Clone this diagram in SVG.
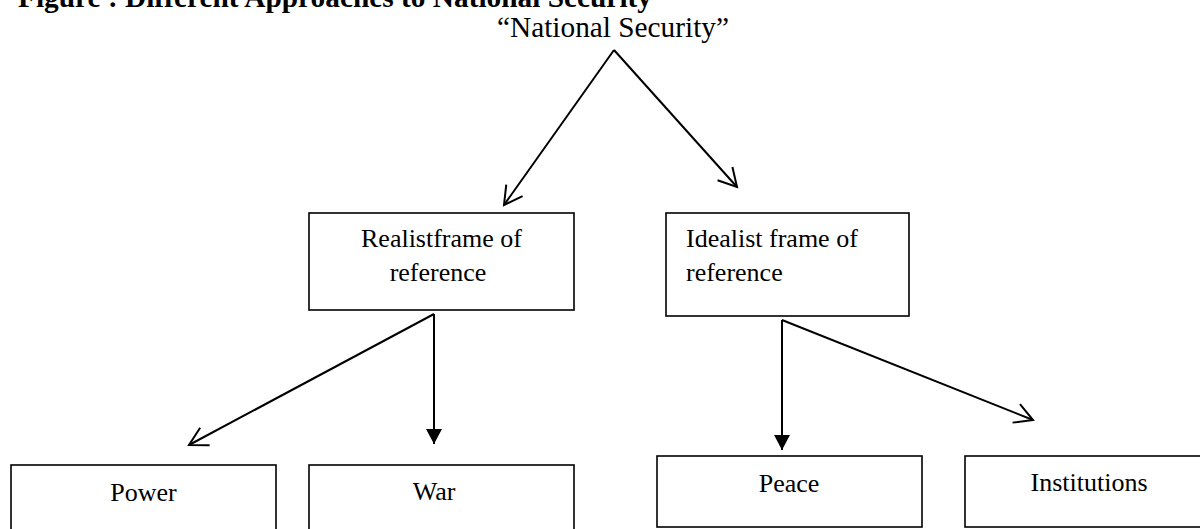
<svg xmlns="http://www.w3.org/2000/svg" width="1200" height="529" viewBox="0 0 1200 529">
  <style>
    .box { fill: #fff; stroke: #000; stroke-width: 1.6; }
    .lbl { font-family: "Liberation Serif", "Times New Roman", serif; font-size: 26px; fill: #000; }
    .c { text-anchor: middle; }
    .conn { fill: none; stroke: #000; stroke-width: 2; }
    .open { marker-end: url(#openHead); }
    .solid { marker-end: url(#solidHead); }
  </style>
  <defs>
    <marker id="openHead" viewBox="-24 -14 28 28" markerWidth="28" markerHeight="28" refX="0" refY="0" orient="auto" markerUnits="userSpaceOnUse">
      <path d="M-18,-10 L0,0 L-18,10" fill="none" stroke="#000" stroke-width="2" stroke-linejoin="miter"/>
    </marker>
    <marker id="solidHead" viewBox="-18 -10 20 20" markerWidth="20" markerHeight="20" refX="0" refY="0" orient="auto" markerUnits="userSpaceOnUse">
      <path d="M-15,-8 L0,0 L-15,8 Z" fill="#000"/>
    </marker>
  </defs>
  <rect width="1200" height="529" fill="#fff"/>

  <g id="title">
    <text x="18" y="7" font-family="Liberation Serif, Times New Roman, serif" font-size="29" font-weight="bold" textLength="634" lengthAdjust="spacingAndGlyphs">Figure : Different Approaches to National Security</text>
  </g>

  <g id="node-national-security">
    <text x="497" y="37" class="lbl" font-size="29" style="font-size:29px" textLength="232" lengthAdjust="spacingAndGlyphs">“National Security”</text>
  </g>

  <g id="connectors">
    <path class="conn open" d="M614,50 L504,205"/>
    <path class="conn open" d="M614,50 L737,187"/>
    <path class="conn open" d="M434,314 L189,445"/>
    <path class="conn solid" d="M434,314 L434,444"/>
    <path class="conn solid" d="M782,320 L782,450"/>
    <path class="conn open" d="M782,320 L1033,420"/>
  </g>

  <g id="node-realist">
    <rect class="box" x="309" y="213" width="265" height="97"/>
    <text class="lbl c" x="441.5" y="247">Realistframe of</text>
    <text class="lbl c" x="438" y="281">reference</text>
  </g>

  <g id="node-idealist">
    <rect class="box" x="666" y="213" width="243" height="103"/>
    <text class="lbl" x="686" y="247">Idealist frame of</text>
    <text class="lbl" x="686" y="281">reference</text>
  </g>

  <g id="node-power">
    <rect class="box" x="11" y="465" width="265" height="80"/>
    <text class="lbl c" x="143.5" y="501">Power</text>
  </g>

  <g id="node-war">
    <rect class="box" x="309" y="465" width="265" height="80"/>
    <text class="lbl c" x="434" y="500">War</text>
  </g>

  <g id="node-peace">
    <rect class="box" x="657" y="456" width="265" height="71"/>
    <text class="lbl c" x="789" y="492">Peace</text>
  </g>

  <g id="node-institutions">
    <rect class="box" x="965" y="456" width="265" height="71"/>
    <text class="lbl c" x="1089" y="491">Institutions</text>
  </g>
</svg>
